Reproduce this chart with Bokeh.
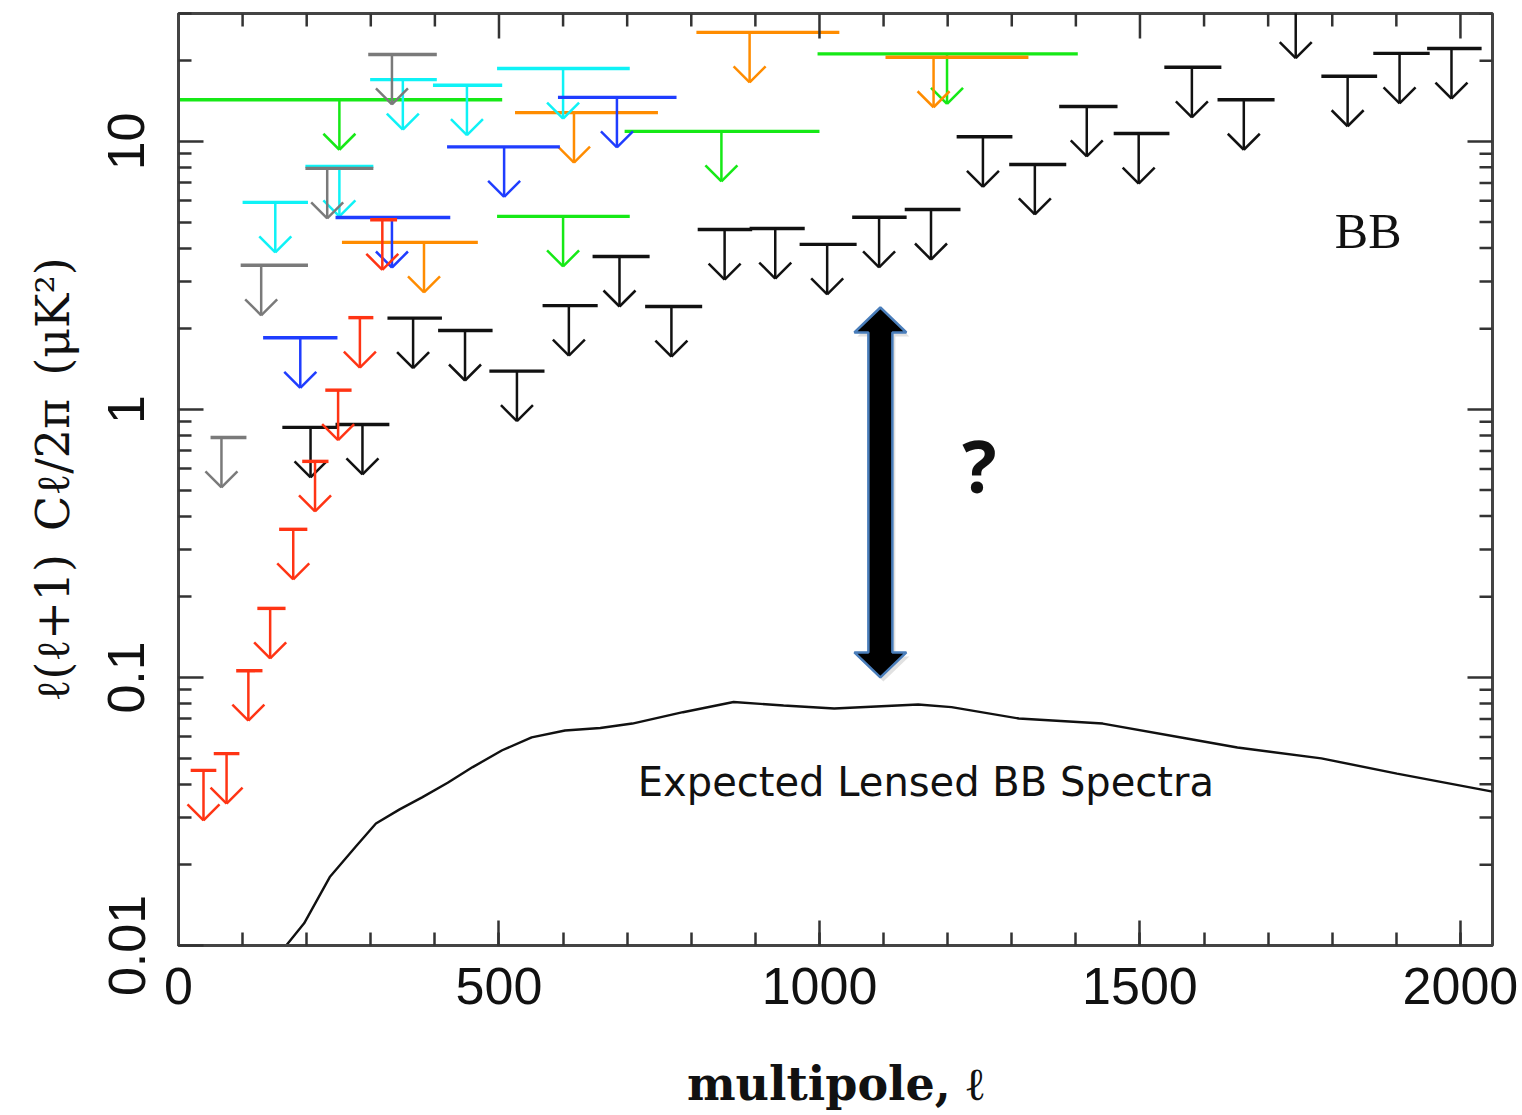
import numpy as np
from bokeh.plotting import figure
from bokeh.models import Range1d, FixedTicker, CustomJSTickFormatter, Label
from bokeh.embed import file_html
from bokeh.resources import INLINE

# ---------------------------------------------------------------------------
# BB upper limits: stem multipole, bin edges, 95% upper limit (uK^2)
# ---------------------------------------------------------------------------
red_l = [39, 75, 109, 143, 179, 213, 249, 283, 318]
red_lo = [19, 55, 90, 123, 157, 193, 229, 265, 299]
red_hi = [59, 95, 131, 167, 201, 234, 270, 304, 341]
red_lim = [0.045, 0.052, 0.106, 0.181, 0.357, 0.64, 1.18, 2.2, 5.1]

black_l = [206, 287, 366, 447, 528, 609, 688, 769, 852, 931, 1012, 1093,
           1174, 1255, 1336, 1417, 1498, 1581, 1662, 1743, 1824, 1905, 1986]
black_lo = [162, 245, 326, 405, 485, 568, 646, 728, 810, 891, 969, 1051,
            1133, 1214, 1296, 1374, 1459, 1538, 1621, 1700, 1783, 1864, 1948]
black_hi = [248, 329, 411, 490, 571, 654, 735, 817, 895, 977, 1058, 1136,
            1220, 1301, 1385, 1465, 1546, 1627, 1710, 1786, 1870, 1952, 2033]
black_lim = [0.857, 0.879, 2.19, 1.97, 1.39, 2.44, 3.72, 2.42, 4.69, 4.73,
             4.13, 5.21, 5.57, 10.4, 8.2, 13.5, 10.7, 18.9, 14.3, 31.4,
             17.5, 21.3, 22.2]

gray_l = [67, 129, 232, 333]
gray_lo = [50, 97, 198, 296]
gray_hi = [106, 202, 304, 403]
gray_lim = [0.786, 3.45, 7.93, 21.1]

cyan_l = [151, 251, 350, 450, 600]
cyan_lo = [100, 198, 299, 397, 497]
cyan_hi = [202, 304, 403, 505, 704]
cyan_lim = [5.92, 8.07, 17.0, 16.2, 18.7]

blue_l = [190, 333, 508, 684]
blue_lo = [132, 245, 419, 592]
blue_hi = [248, 424, 595, 777]
blue_lim = [1.85, 5.2, 9.54, 14.6]

orange_l = [383, 617, 891, 1178]
orange_lo = [255, 525, 808, 1103]
orange_hi = [467, 748, 1031, 1326]
orange_lim = [4.2, 12.8, 25.5, 20.6]

green_l = [251, 600, 847, 1199]
green_lo = [0, 497, 696, 997]
green_hi = [505, 704, 1000, 1403]
green_lim = [14.3, 5.25, 10.9, 21.2]

# Expected lensed BB spectrum
lens_l = [160, 168, 196, 236, 276, 308, 345, 380, 420, 459, 505, 551, 603,
          658, 708, 787, 866, 944, 1023, 1154, 1206, 1311, 1442, 1573, 1652,
          1783, 1901, 2050]
lens_cl = [0.0093, 0.0100, 0.0121, 0.018, 0.0233, 0.0285, 0.0322, 0.0357,
           0.0405, 0.0463, 0.0535, 0.0598, 0.0634, 0.0648, 0.0673, 0.0742,
           0.0810, 0.0786, 0.0766, 0.0793, 0.0775, 0.0703, 0.0673, 0.0592,
           0.0548, 0.0499, 0.0438, 0.0375]

# Gap between current limits and the lensing signal
gap_l = 1095
gap_top = 2.4
gap_bottom = 0.1

x_ticks = [0, 500, 1000, 1500, 2000]
x_minor = list(range(0, 2100, 100))
y_ticks = [0.01, 0.1, 1, 10]
y_minor = [m * 10.0 ** e for e in (-2, -1, 0, 1) for m in range(2, 10)]

# ---------------------------------------------------------------------------
W, H = 1522, 1115
B_LEFT, B_RIGHT, B_TOP, B_BOTTOM = 178, 30, 13, 170
X0, X1 = 0, 2050
Y0, Y1 = 0.01, 30

p = figure(width=W, height=H, x_range=Range1d(X0, X1), y_range=Range1d(Y0, Y1),
           y_axis_type="log", output_backend="svg", toolbar_location=None,
           min_border_left=B_LEFT, min_border_right=B_RIGHT,
           min_border_top=B_TOP, min_border_bottom=B_BOTTOM)
p.xgrid.visible = False
p.ygrid.visible = False
p.outline_line_color = "#444444"
p.outline_line_width = 3
p.background_fill_color = "white"
p.border_fill_color = "white"

# pixel <-> data conversions for screen-sized pieces
frame_w = W - B_LEFT - B_RIGHT
frame_h = H - B_TOP - B_BOTTOM
units_per_px = (X1 - X0) / frame_w
dec_per_px = np.log10(Y1 / Y0) / frame_h

ARROW_PX = 50
HEAD_PX = 16


def upper_limits(ell, lo, hi, lim, color):
    ell = np.asarray(ell, float)
    lim = np.asarray(lim, float)
    tip = lim * 10 ** (-ARROW_PX * dec_per_px)
    arm_y = tip * 10 ** (HEAD_PX * dec_per_px)
    dx = HEAD_PX * units_per_px
    p.segment(lo, lim, hi, lim, line_color=color, line_width=3.4)
    p.segment(ell, lim, ell, tip, line_color=color, line_width=2.5)
    p.segment(np.r_[ell - dx, ell + dx], np.r_[arm_y, arm_y],
              np.r_[ell, ell], np.r_[tip, tip],
              line_color=color, line_width=2.5)


upper_limits(green_l, green_lo, green_hi, green_lim, "#16e916")
upper_limits(orange_l, orange_lo, orange_hi, orange_lim, "#ff8c00")
upper_limits(cyan_l, cyan_lo, cyan_hi, cyan_lim, "#0ff2f6")
upper_limits(blue_l, blue_lo, blue_hi, blue_lim, "#1f3dff")
upper_limits(gray_l, gray_lo, gray_hi, gray_lim, "#7a7a7a")
upper_limits(black_l, black_lo, black_hi, black_lim, "#111111")
upper_limits(red_l, red_lo, red_hi, red_lim, "#ff3414")

p.line(lens_l, lens_cl, line_color="#111111", line_width=2.4)

# double-headed arrow marking the gap
cx = gap_l
sw = 12 * units_per_px
hw = 26 * units_per_px
hf = 10 ** (25 * dec_per_px)
ax_pts = [cx, cx + hw, cx + sw, cx + sw, cx + hw, cx, cx - hw, cx - sw, cx - sw, cx - hw]
ay_pts = [gap_top, gap_top / hf, gap_top / hf, gap_bottom * hf, gap_bottom * hf,
          gap_bottom, gap_bottom * hf, gap_bottom * hf, gap_top / hf, gap_top / hf]
shift_x = 3 * units_per_px
shift_y = 10 ** (-4 * dec_per_px)
p.patch([a + shift_x for a in ax_pts], [a * shift_y for a in ay_pts],
        fill_color="#888888", fill_alpha=0.25, line_alpha=0)
p.patch(ax_pts, ay_pts, fill_color="black", line_color="#4a7ebb", line_width=2.5)

p.add_layout(Label(x=1249.6, y=0.618, text="?", text_font="Open Sans",
                   text_font_size="72px", text_font_style="bold",
                   text_align="center", text_baseline="alphabetic",
                   text_color="#111111"))
p.add_layout(Label(x=1166, y=0.0409, text="Expected Lensed BB Spectra",
                   text_font="DejaVu Sans", text_font_size="40px",
                   text_align="center", text_baseline="alphabetic",
                   text_color="#111111"))
p.add_layout(Label(x=1856, y=4.62, text="BB", text_font="Liberation Serif",
                   text_font_size="50px", text_align="center",
                   text_baseline="alphabetic", text_color="#111111"))

# ---------------------------------------------------------------------------
# axes (bottom/left) and mirrored inward ticks on top/right
MAJOR_PX, MINOR_PX = 25, 13
TICK_COLOR = "#333333"

xa = p.xaxis[0]
ya = p.yaxis[0]
xa.ticker = FixedTicker(ticks=x_ticks, minor_ticks=x_minor)
ya.ticker = FixedTicker(ticks=y_ticks, minor_ticks=y_minor)
ya.formatter = CustomJSTickFormatter(code="return String(Number(tick.toPrecision(2)));")
ya.major_label_orientation = "vertical"

for ax in (xa, ya):
    ax.major_tick_in = MAJOR_PX
    ax.major_tick_out = 0
    ax.minor_tick_in = MINOR_PX
    ax.minor_tick_out = 0
    ax.axis_line_width = 3
    ax.axis_line_color = "#444444"
    ax.major_tick_line_width = 2.5
    ax.minor_tick_line_width = 2.5
    ax.major_tick_line_color = TICK_COLOR
    ax.minor_tick_line_color = TICK_COLOR
    ax.major_label_text_font = "Liberation Sans"
    ax.major_label_text_font_size = "52px"
    ax.major_label_text_color = "#111111"

xa.major_label_standoff = 22
ya.major_label_standoff = 34

xa.axis_label = "multipole, ℓ"
xa.axis_label_text_font = "DejaVu Serif"
xa.axis_label_text_font_size = "46px"
xa.axis_label_text_font_style = "bold"
xa.axis_label_text_color = "#111111"
xa.axis_label_standoff = 50

ya.axis_label = "ℓ(ℓ+1)\u2002Cℓ/2π\u2002(μK²)"
ya.axis_label_text_font = "DejaVu Serif"
ya.axis_label_text_font_size = "46px"
ya.axis_label_text_font_style = "normal"
ya.axis_label_text_color = "#111111"
ya.axis_label_standoff = 26


def top_ticks(vals, length_px):
    vals = [v for v in vals if X0 <= v <= X1]
    y_end = Y1 * 10 ** (-length_px * dec_per_px)
    p.segment(vals, [Y1] * len(vals), vals, [y_end] * len(vals),
              line_color=TICK_COLOR, line_width=2.5)


def right_ticks(vals, length_px):
    vals = [v for v in vals if Y0 <= v <= Y1]
    x_end = X1 - length_px * units_per_px
    p.segment([X1] * len(vals), vals, [x_end] * len(vals), vals,
              line_color=TICK_COLOR, line_width=2.5)


top_ticks(x_ticks, MAJOR_PX)
top_ticks([v for v in x_minor if v not in x_ticks], MINOR_PX)
right_ticks(y_ticks, MAJOR_PX)
right_ticks(y_minor, MINOR_PX)

open("out.html", "w").write(file_html(p, INLINE))
